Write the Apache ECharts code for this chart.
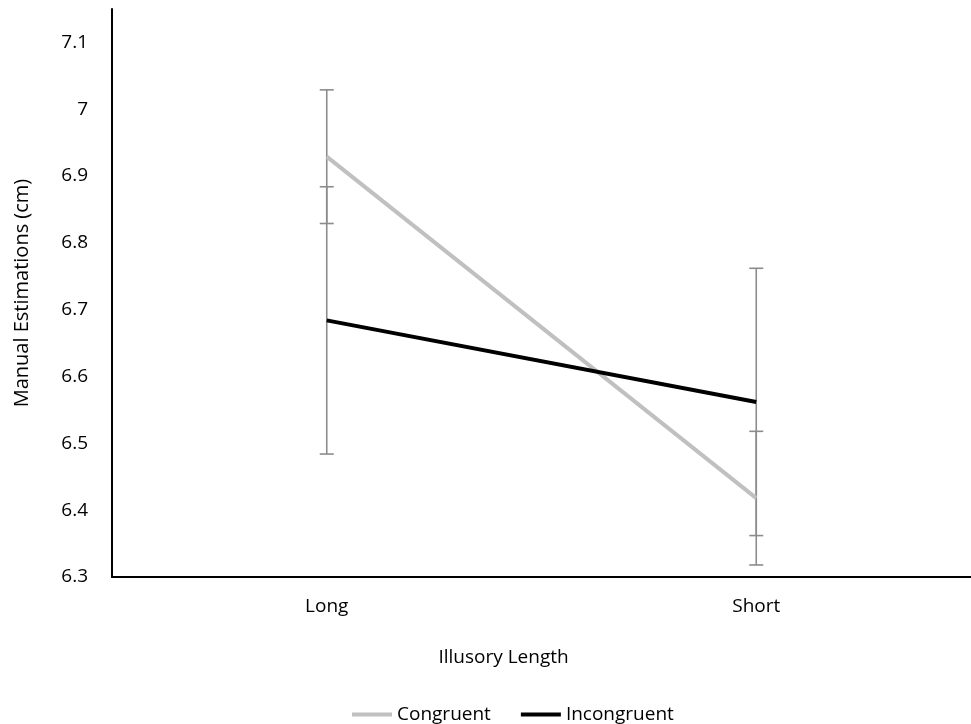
<!DOCTYPE html>
<html><head><meta charset="utf-8">
<script src="https://cdn.jsdelivr.net/npm/echarts@6/dist/echarts.min.js"></script>
<style>html,body{margin:0;padding:0;background:#fff}#c{width:971px;height:724px}</style>
</head><body><div id="c"></div>
<script>
var categories = ['Long', 'Short'];
var congruent = [6.929, 6.418];
var incongruent = [6.684, 6.562];
var congruentErr = [0.1, 0.1];
var incongruentErr = [0.2, 0.2];
var yTicks = [6.3, 6.4, 6.5, 6.6, 6.7, 6.8, 6.9, 7, 7.1];

var errData = [];
for (var i = 0; i < categories.length; i++) {
  errData.push([i, congruent[i] - congruentErr[i], congruent[i] + congruentErr[i]]);
  errData.push([i, incongruent[i] - incongruentErr[i], incongruent[i] + incongruentErr[i]]);
}
var font = '"Open Sans", sans-serif';
var chart = echarts.init(document.getElementById('c'), null, {renderer: 'canvas'});
chart.setOption({
  animation: false,
  grid: {left: 112, right: 0, top: 9, bottom: 147},
  legend: {
    left: 347, top: 700, itemWidth: 40, itemHeight: 4, itemGap: 30,
    icon: 'rect',
    textStyle: {fontFamily: font, fontSize: 19, color: '#000'},
    data: ['Congruent', 'Incongruent']
  },
  xAxis: {
    type: 'category', data: categories,
    axisLine: {lineStyle: {color: '#000', width: 2}},
    axisTick: {show: false},
    axisLabel: {fontFamily: font, fontSize: 19, color: '#000', margin: 20},
    name: 'Illusory Length', nameLocation: 'middle', nameGap: 71,
    nameTextStyle: {fontFamily: font, fontSize: 19, color: '#000', padding: [0, 76, 0, 0]}
  },
  yAxis: {
    type: 'value', min: 6.3, max: 7.15, interval: 0.1,
    axisLine: {show: true, lineStyle: {color: '#000', width: 2}},
    axisTick: {show: false},
    splitLine: {show: false},
    axisLabel: {
      fontFamily: font, fontSize: 19, color: '#000', margin: 24,
      formatter: function (v) {
        for (var k = 0; k < yTicks.length; k++) {
          if (Math.abs(v - yTicks[k]) < 1e-6) return String(yTicks[k]);
        }
        return '';
      }
    },
    name: 'Manual Estimations (cm)', nameLocation: 'middle', nameGap: 80,
    nameTextStyle: {fontFamily: font, fontSize: 20, color: '#000'}
  },
  series: [
    {
      type: 'custom', name: 'err', silent: true, z: 1,
      data: errData,
      renderItem: function (params, api) {
        var x = api.coord([api.value(0), api.value(1)])[0];
        var lo = api.coord([api.value(0), api.value(1)])[1];
        var hi = api.coord([api.value(0), api.value(2)])[1];
        var w = 7;
        var st = {stroke: '#8c8c8c', lineWidth: 1.6};
        return {type: 'group', children: [
          {type: 'line', shape: {x1: x, y1: lo, x2: x, y2: hi}, style: st},
          {type: 'line', shape: {x1: x - w, y1: lo, x2: x + w, y2: lo}, style: st},
          {type: 'line', shape: {x1: x - w, y1: hi, x2: x + w, y2: hi}, style: st}
        ]};
      }
    },
    {
      type: 'line', name: 'Congruent', data: congruent, symbol: 'none', z: 3,
      lineStyle: {color: '#c0c0c0', width: 4}, itemStyle: {color: '#c0c0c0'}
    },
    {
      type: 'line', name: 'Incongruent', data: incongruent, symbol: 'none', z: 4,
      lineStyle: {color: '#000', width: 4}, itemStyle: {color: '#000'}
    }
  ]
});
</script></body></html>
